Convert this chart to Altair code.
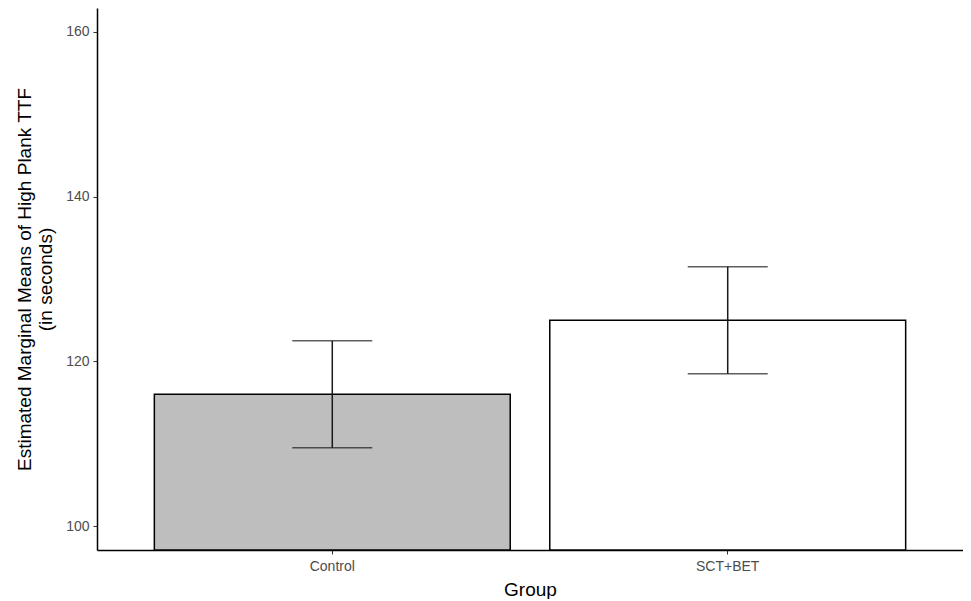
import altair as alt
import pandas as pd

groups = ["Control", "SCT+BET"]
means = [116.0, 125.0]
lower = [109.5, 118.5]
upper = [122.5, 131.5]
fills = ["#bebebe", "#ffffff"]

df = pd.DataFrame({"Group": groups, "mean": means, "lower": lower, "upper": upper, "fill": fills})

ydom = [97.1, 162.9]
FONT = "Liberation Sans"

x = alt.X("Group:N", title="Group",
          scale=alt.Scale(paddingInner=0.1, paddingOuter=0.145),
          axis=alt.Axis(labelAngle=0, labelColor="#4d4d4d", labelFontSize=14, labelFont=FONT,
                        titleFont=FONT, titleFontSize=19, titleFontWeight="normal", titleColor="#000000",
                        domainColor="#000000", domainWidth=1.5, tickColor="#333333", tickSize=4,
                        labelPadding=5, titlePadding=7))

yscale = alt.Scale(domain=ydom, nice=False, zero=False, clamp=True)

bars = alt.Chart(df).mark_bar(stroke="#000000", strokeWidth=1.5).encode(
    x=x,
    y=alt.Y("mean:Q", scale=yscale,
            title=["Estimated Marginal Means of High Plank TTF", "(in seconds)"],
            axis=alt.Axis(values=[100, 120, 140, 160], grid=False, labelColor="#4d4d4d",
                          labelFontSize=14, labelFont=FONT, titleFont=FONT, titleFontSize=19,
                          titleFontWeight="normal", titleColor="#000000", domainColor="#000000",
                          domainWidth=1.5, tickColor="#333333", tickSize=4, labelPadding=4,
                          titlePadding=10)),
    y2=alt.datum(0),
    fill=alt.Fill("fill:N", scale=None),
)

rule = alt.Chart(df).mark_rule(color="#1a1a1a", strokeWidth=1.5).encode(
    x="Group:N",
    y=alt.Y("lower:Q", scale=yscale),
    y2="upper:Q",
)

cap_lo = alt.Chart(df).mark_tick(color="#1a1a1a", thickness=1.5, size=80).encode(
    x="Group:N", y=alt.Y("lower:Q", scale=yscale))
cap_hi = alt.Chart(df).mark_tick(color="#1a1a1a", thickness=1.5, size=80).encode(
    x="Group:N", y=alt.Y("upper:Q", scale=yscale))

chart = alt.layer(bars, rule, cap_lo, cap_hi).properties(
    width=866, height=542,
    padding={"left": 7, "top": 0, "right": 0, "bottom": 0},
).configure_view(stroke=None).configure_axis(grid=False)

chart.save("out.html", embed_options={"renderer": "svg", "actions": False})
